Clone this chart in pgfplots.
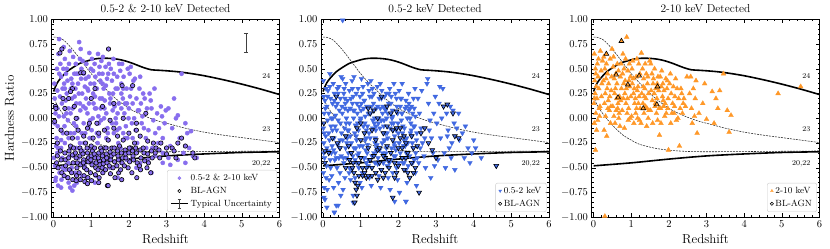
\documentclass[border=0pt]{standalone}
\usepackage{fix-cm}
\usepackage{pgfplots}
\usepackage{pgfplotstable}
\pgfplotsset{compat=1.18}
\definecolor{mpurple}{RGB}{136,110,238}
\definecolor{mblue}{RGB}{65,105,225}
\definecolor{morange}{RGB}{255,152,40}

\pgfplotstableread{
z h
0 0.27
0.05 0.32
0.1 0.36
0.2 0.41
0.35 0.47
0.5 0.51
0.7 0.555
0.9 0.58
1.1 0.60
1.3 0.607
1.5 0.605
1.7 0.597
1.9 0.58
2.1 0.555
2.3 0.525
2.45 0.505
2.6 0.49
2.8 0.485
3.0 0.48
3.3 0.47
3.6 0.455
4.0 0.43
4.5 0.39
5.0 0.345
5.5 0.295
6.0 0.24
}\trackA

\pgfplotstableread{
z h
0 0.82
0.1 0.818
0.2 0.805
0.3 0.78
0.45 0.72
0.6 0.65
0.8 0.55
1.0 0.45
1.2 0.365
1.4 0.29
1.6 0.215
1.8 0.155
2.0 0.1
2.2 0.06
2.5 0.01
2.8 -0.03
3.0 -0.05
3.5 -0.1
4.0 -0.14
4.5 -0.17
5.0 -0.195
5.5 -0.22
6.0 -0.245
}\trackB

\pgfplotstableread{
z h
0 0.22
0.05 0.17
0.1 0.13
0.2 0.07
0.34 0.0
0.5 -0.07
0.78 -0.17
1.0 -0.22
1.2 -0.26
1.6 -0.30
2.0 -0.322
2.5 -0.335
3.0 -0.338
4.0 -0.336
5.0 -0.333
6.0 -0.33
}\trackC

\pgfplotstableread{
z h
0 -0.48
1 -0.45
2 -0.412
3 -0.38
4 -0.36
5 -0.345
6 -0.338
}\trackD

\pgfplotsset{
  hrstyle/.style={
    scale only axis, width=228pt, height=198pt,
    xmin=-0.055, xmax=6, ymin=-1, ymax=1,
    xtick={0,1,2,3,4,5,6},
    ytick={-1,-0.75,-0.5,-0.25,0,0.25,0.5,0.75,1},
    yticklabel={\pgfmathprintnumber[fixed,fixed zerofill,precision=2]{\tick}},
    minor x tick num=4, minor y tick num=4,
    tick align=inside, major tick length=4pt, minor tick length=2pt,
    every tick/.style={black, line width=0.5pt},
    axis line style={line width=0.8pt},
    tick label style={font=\fontsize{10.5}{12}\selectfont},
    xlabel={Redshift},
    label style={font=\fontsize{13}{15}\selectfont},
    title style={font=\fontsize{11.5}{13}\selectfont, yshift=-3pt},
    legend style={at={(0.989,0.027)}, anchor=south east, draw=black!20, rounded corners=2pt,
      fill=white, fill opacity=0.8, text opacity=1, font=\fontsize{9}{10.5}\selectfont,
      cells={anchor=west}, row sep=1pt},
    legend image post style={mark size=1.6pt},
  },
  thickT/.style={black, line width=1.6pt, forget plot, smooth},
  dashT/.style={black!85, line width=0.55pt, dash pattern=on 2pt off 1pt, forget plot, smooth},
  ebar/.style={black!75, line width=0.9pt, forget plot},
}

\newcommand{\tracks}{%
  \addplot[thickT] table[x=z,y=h] {\trackA};
  \addplot[dashT] table[x=z,y=h] {\trackB};
  \addplot[dashT] table[x=z,y=h] {\trackC};
  \addplot[thickT] table[x=z,y=h] {\trackD};
  \node[font=\fontsize{7.5}{9}\selectfont, anchor=east] at (axis cs:5.85,0.43) {24};
  \node[font=\fontsize{7.5}{9}\selectfont, anchor=east] at (axis cs:5.85,-0.11) {23};
  \node[font=\fontsize{7.5}{9}\selectfont, anchor=east] at (axis cs:5.85,-0.455) {20,22};
}

\begin{document}
\begin{tikzpicture}
\path[use as bounding box] (0,0) rectangle (830pt,249pt);

% ---------------- Panel 1 ----------------
\begin{axis}[hrstyle, at={(51.5pt,31.7pt)}, anchor=south west,
  title={0.5-2 \& 2-10 keV Detected}, ylabel={Hardness Ratio}]
\addplot[only marks, mark=*, mark size=2.1pt, mpurple, mark options={fill=mpurple, draw=mpurple, line width=0.4pt}] coordinates {
(0.02,0.35)(0.05,0.12)(0.03,-0.05)(0.08,-0.2)(0.1,-0.35)(0.04,-0.48)(0.06,-0.6)(0.12,-0.68)(0.15,0.8)(0.18,0.55)(0.2,0.42)(0.1,0.28)(0.22,0.15)(0.14,0.02)(0.19,-0.12)(0.07,-0.28)(0.23,-0.4)(0.16,-0.55)(0.21,-0.62)(0.09,0.5)(0.13,0.65)(0.24,0.3)(0.01,-0.4)(0.11,-0.08)(0.17,0.22)(0.05,0.05)(0.2,-0.22)(0.03,0.2)(0.24,-0.5)(0.12,-0.3)
(0.27,0.72)(0.3,0.6)(0.33,0.45)(0.28,0.35)(0.35,0.25)(0.4,0.1)(0.38,-0.02)(0.45,-0.15)(0.3,-0.25)(0.42,-0.38)(0.48,-0.5)(0.36,-0.6)(0.44,-0.7)(0.5,-0.73)(0.26,0.5)(0.32,0.18)(0.47,0.4)(0.41,0.55)(0.29,-0.08)(0.46,0.3)(0.34,0.05)(0.39,-0.45)(0.43,0.68)(0.31,-0.52)(0.49,0.2)(0.37,0.38)(0.27,0.02)(0.45,-0.3)
(0.52,0.62)(0.55,0.45)(0.58,0.3)(0.6,0.15)(0.63,0.0)(0.66,-0.12)(0.7,-0.25)(0.53,-0.38)(0.57,-0.55)(0.62,-0.65)(0.68,0.77)(0.72,0.7)(0.74,0.5)(0.65,0.35)(0.56,0.22)(0.71,0.08)(0.54,-0.05)(0.61,-0.3)(0.69,-0.45)(0.73,0.4)(0.59,0.55)(0.67,0.25)(0.51,0.1)(0.64,-0.2)(0.75,-0.58)(0.55,-0.15)(0.7,0.6)(0.6,0.45)(0.66,-0.4)
(0.77,0.58)(0.8,0.45)(0.83,0.32)(0.86,0.2)(0.9,0.05)(0.93,-0.08)(0.96,-0.2)(0.78,-0.33)(0.82,-0.48)(0.88,-0.6)(0.95,0.66)(0.99,0.5)(0.85,0.4)(0.92,0.28)(0.79,0.12)(0.97,-0.02)(0.84,-0.15)(0.91,-0.4)(0.87,0.55)(0.94,0.15)(0.81,-0.25)(0.98,0.35)(0.76,0.25)(0.89,-0.52)(0.93,0.42)
(1.02,0.6)(1.05,0.48)(1.08,0.35)(1.1,0.22)(1.13,0.1)(1.16,-0.05)(1.2,-0.18)(1.03,-0.3)(1.07,-0.45)(1.12,-0.58)(1.18,0.65)(1.22,0.52)(1.24,0.38)(1.15,0.3)(1.06,0.15)(1.19,0.02)(1.01,-0.12)(1.14,-0.38)(1.21,0.45)(1.09,0.55)(1.23,0.2)(1.04,0.0)(1.17,-0.25)(1.11,0.42)
(1.27,0.58)(1.3,0.45)(1.33,0.3)(1.36,0.18)(1.4,0.05)(1.43,-0.1)(1.46,-0.22)(1.28,-0.35)(1.32,-0.5)(1.38,0.52)(1.42,0.4)(1.48,0.25)(1.35,0.1)(1.26,-0.02)(1.44,-0.15)(1.49,-0.4)(1.31,0.62)(1.39,0.33)(1.47,0.55)(1.29,0.2)(1.41,-0.3)(1.34,0.0)
(1.52,0.5)(1.55,0.38)(1.58,0.25)(1.62,0.12)(1.65,0.0)(1.68,-0.12)(1.72,-0.25)(1.54,-0.38)(1.6,0.45)(1.7,0.3)(1.74,0.55)(1.57,0.08)(1.66,-0.05)(1.51,0.2)(1.63,-0.3)(1.69,0.42)(1.73,0.15)(1.59,0.6)
(1.77,0.48)(1.8,0.35)(1.84,0.2)(1.88,0.05)(1.92,-0.08)(1.96,-0.2)(1.78,-0.3)(1.86,0.42)(1.94,0.3)(1.82,0.55)(1.9,0.15)(1.99,0.0)(1.85,-0.15)(1.97,0.5)(1.8,0.1)
(2.02,0.45)(2.06,0.3)(2.1,0.15)(2.14,0.0)(2.18,-0.12)(2.22,-0.25)(2.05,0.52)(2.12,0.38)(2.2,0.2)(2.08,-0.05)(2.16,0.4)(2.24,0.08)(2.03,0.22)
(2.28,0.3)(2.32,0.15)(2.36,0.02)(2.4,-0.1)(2.45,-0.2)(2.3,0.42)(2.38,0.25)(2.48,0.1)(2.34,-0.05)(2.42,0.2)(2.46,-0.3)(2.27,0.08)
(2.55,0.25)(2.6,0.1)(2.65,-0.02)(2.7,-0.15)(2.75,0.05)(2.8,-0.1)(2.85,0.12)(2.9,-0.2)(2.95,-0.05)(2.58,0.18)(2.68,0.3)(2.78,-0.25)(2.88,0.02)(2.52,-0.12)(2.98,0.08)(2.62,-0.3)
(3.05,0.1)(3.15,-0.1)(3.25,0.0)(3.35,-0.2)(3.4,0.45)(3.5,-0.05)(3.6,-0.3)(3.55,-0.15)(3.2,0.2)(3.1,-0.28)(3.45,-0.35)(3.7,-0.38)(3.3,0.03)(3.05,-0.4)(3.65,-0.13)
(1.3,-0.55)(1.5,-0.5)(1.8,-0.45)(2.1,-0.4)(2.3,-0.45)(2.5,-0.42)(2.7,-0.38)(2.9,-0.35)(3.1,-0.47)(2.6,-0.55)(1.7,-0.6)(1.1,-0.65)(0.9,-0.66)(0.4,-0.65)(2.2,-0.5)(1.95,-0.42)(0.2,-0.7)(0.55,-0.68)(0.05,-0.63)(2.9,-0.45)(3.3,-0.42)(3.5,-0.45)(3.8,-0.4)
(0.1,0.1)(0.2,-0.3)(0.3,0.3)(0.4,-0.2)(0.5,0.35)(0.6,-0.08)(0.7,0.15)(0.8,-0.05)(0.9,0.3)(1.0,-0.2)
(1.1,0.1)(1.2,-0.05)(1.3,0.35)(1.4,-0.2)(1.5,0.15)(1.6,-0.15)(1.7,0.05)(1.8,0.25)(1.9,-0.2)(2.0,0.1)
(0.15,0.45)(0.25,-0.15)(0.35,0.5)(0.45,0.05)(0.55,-0.3)(0.65,0.45)(0.75,-0.15)(0.85,0.1)(0.95,-0.3)(1.05,0.25)
(1.15,-0.15)(1.25,0.1)(1.35,-0.3)(1.45,0.45)(1.55,-0.05)(1.65,0.3)(1.75,-0.1)(1.85,0.3)(1.95,0.15)(2.1,-0.2)
};
\addlegendentry{0.5-2 \& 2-10 keV}
\addplot[only marks, mark=*, mark size=2.2pt, mark options={fill=mpurple, draw=black, line width=0.6pt}, forget plot] coordinates {
(0.17,0.66)(0.22,0.7)(1.46,0.7)(0.72,0.46)(0.8,0.46)(1.82,0.33)(2.1,0.33)(0.5,0.3)(0.45,0.27)(1.0,0.2)(0.4,0.2)(0.25,0.2)(0.05,0.12)(0.06,0.1)(0.03,-0.03)(0.3,0.1)(0.55,0.12)(1.1,0.3)(1.6,0.15)(1.3,0.12)(0.6,0.0)(0.95,-0.05)(1.5,-0.02)(2.45,0.05)(2.2,-0.05)(1.85,0.0)
(0.2,-0.12)(0.35,-0.15)(0.5,-0.2)(0.65,-0.12)(0.8,-0.18)(0.9,-0.1)(1.05,-0.2)(1.2,-0.15)(1.35,-0.12)(1.45,-0.22)(1.6,-0.1)(1.7,-0.18)(1.85,-0.22)(2.0,-0.15)(2.15,-0.25)(2.3,-0.18)(2.5,-0.23)(2.65,-0.25)(2.85,-0.25)(3.0,-0.3)(3.4,-0.2)(3.5,-0.28)(3.3,-0.25)(3.15,-0.3)(0.1,-0.25)(0.45,-0.28)(0.7,-0.3)(1.0,-0.28)(1.25,-0.3)(1.55,-0.3)(1.75,-0.28)(2.05,-0.3)(2.2,-0.12)(1.15,-0.05)(0.85,-0.25)
(0.1,-0.38)(0.12,-0.5)(0.08,-0.45)(0.2,-0.42)(0.22,-0.55)(0.18,-0.33)(0.3,-0.35)(0.32,-0.48)(0.28,-0.58)(0.31,-0.42)
(0.4,-0.4)(0.42,-0.52)(0.38,-0.6)(0.41,-0.33)(0.5,-0.37)(0.52,-0.45)(0.48,-0.55)(0.51,-0.62)(0.53,-0.3)
(0.6,-0.4)(0.62,-0.5)(0.58,-0.35)(0.61,-0.58)(0.63,-0.45)(0.7,-0.38)(0.72,-0.47)(0.68,-0.55)(0.71,-0.62)(0.73,-0.33)
(0.8,-0.42)(0.82,-0.5)(0.78,-0.36)(0.81,-0.58)(0.83,-0.64)(0.79,-0.45)(0.9,-0.35)(0.92,-0.44)(0.88,-0.52)(0.91,-0.6)(0.93,-0.4)(0.89,-0.3)
(1.0,-0.38)(1.02,-0.47)(0.98,-0.55)(1.01,-0.63)(1.03,-0.33)(0.99,-0.42)(1.1,-0.4)(1.12,-0.5)(1.08,-0.36)(1.11,-0.57)(1.13,-0.45)(1.09,-0.3)
(1.2,-0.35)(1.22,-0.43)(1.18,-0.52)(1.21,-0.6)(1.23,-0.47)(1.19,-0.4)(1.3,-0.38)(1.32,-0.46)(1.28,-0.33)(1.31,-0.55)(1.33,-0.42)(1.29,-0.5)
(1.4,-0.36)(1.42,-0.45)(1.38,-0.52)(1.41,-0.4)(1.43,-0.68)(1.39,-0.3)(1.5,-0.34)(1.52,-0.42)(1.48,-0.48)(1.51,-0.56)(1.53,-0.38)
(1.6,-0.36)(1.62,-0.44)(1.58,-0.5)(1.61,-0.3)(1.63,-0.6)(1.7,-0.33)(1.72,-0.42)(1.68,-0.48)(1.71,-0.38)(1.73,-0.55)
(1.8,-0.35)(1.82,-0.45)(1.78,-0.52)(1.81,-0.62)(1.83,-0.4)(1.9,-0.32)(1.92,-0.4)(1.88,-0.48)(1.91,-0.36)
(2.0,-0.35)(2.02,-0.44)(1.98,-0.5)(2.01,-0.3)(2.1,-0.33)(2.12,-0.42)(2.08,-0.55)(2.11,-0.38)
(2.2,-0.35)(2.22,-0.45)(2.18,-0.3)(2.21,-0.6)(2.3,-0.32)(2.32,-0.4)(2.28,-0.48)(2.31,-0.52)
(2.4,-0.35)(2.42,-0.43)(2.38,-0.3)(2.5,-0.36)(2.52,-0.45)(2.48,-0.5)(2.6,-0.33)(2.62,-0.4)(2.58,-0.55)
(2.7,-0.35)(2.72,-0.3)(2.8,-0.32)(2.82,-0.4)(3.0,-0.36)(3.2,-0.33)(3.25,-0.4)(3.75,-0.4)(3.7,-0.35)
(1.45,-0.68)(0.6,-0.63)(0.9,-0.66)(1.2,-0.65)
};
% typical uncertainty: bar and caps
\addplot[ebar] coordinates {(5.11,0.667) (5.11,0.859)};
\addplot[ebar] coordinates {(5.056,0.859) (5.164,0.859)};
\addplot[ebar] coordinates {(5.056,0.667) (5.164,0.667)};
\tracks
\addlegendimage{only marks, mark=o, black, mark options={line width=0.6pt}}
\addlegendentry{BL-AGN}
\addlegendimage{legend image code/.code={
  \draw[black, line width=1.2pt] (0cm,0cm) -- (0.6cm,0cm);
  \draw[black!75, line width=0.8pt] (0.3cm,-0.16cm) -- (0.3cm,0.16cm);
  \draw[black!75, line width=0.8pt] (0.24cm,-0.16cm) -- (0.36cm,-0.16cm);
  \draw[black!75, line width=0.8pt] (0.24cm,0.16cm) -- (0.36cm,0.16cm);}}
\addlegendentry{Typical Uncertainty}
\end{axis}

% ---------------- Panel 2 ----------------
\begin{axis}[hrstyle, at={(321pt,31.7pt)}, anchor=south west,
  title={0.5-2 keV Detected}]
\addplot[only marks, mark=triangle*, mark size=2.8pt, mblue, mark options={fill=mblue, draw=mblue, line width=0.3pt, rotate=180}] coordinates {
(0.52,0.99)
(0.01,0.38)(0.02,0.22)(0.03,0.05)(0.01,-0.1)(0.02,-0.25)(0.04,-0.4)(0.01,-0.55)(0.03,-0.7)(0.05,-0.82)(0.08,0.3)(0.1,0.12)(0.12,-0.02)(0.07,-0.18)(0.14,-0.33)(0.09,-0.48)(0.16,-0.62)(0.18,0.45)(0.2,0.2)(0.22,0.0)(0.15,-0.15)(0.24,-0.28)(0.19,-0.42)(0.11,-0.72)(0.23,-0.58)(0.06,0.1)(0.13,0.28)(0.21,-0.08)(0.17,-0.22)(0.02,-0.35)(0.25,0.15)
(0.27,0.35)(0.3,0.18)(0.33,0.03)(0.36,-0.12)(0.39,-0.27)(0.42,-0.4)(0.45,-0.55)(0.3,-0.95)(0.35,-0.88)(0.28,-0.7)(0.48,0.42)(0.4,0.25)(0.43,0.08)(0.46,-0.05)(0.29,-0.2)(0.32,-0.35)(0.37,-0.5)(0.41,-0.65)(0.47,-0.78)(0.26,0.0)(0.34,0.12)(0.44,-0.3)(0.38,0.3)(0.49,-0.15)(0.31,-0.42)(0.46,0.2)
(0.52,0.4)(0.55,0.25)(0.58,0.1)(0.61,-0.05)(0.64,-0.2)(0.67,-0.35)(0.7,-0.5)(0.73,-0.62)(0.53,-0.72)(0.56,0.3)(0.59,0.15)(0.62,0.0)(0.65,-0.12)(0.68,-0.28)(0.71,-0.42)(0.74,0.2)(0.51,0.05)(0.57,-0.1)(0.63,-0.25)(0.69,-0.55)(0.6,0.35)(0.66,0.08)(0.72,-0.18)(0.54,-0.4)(0.7,0.28)(0.58,-0.6)
(0.77,0.38)(0.8,0.22)(0.83,0.08)(0.86,-0.07)(0.89,-0.22)(0.92,-0.37)(0.95,-0.5)(0.98,-0.65)(0.8,-0.78)(0.78,0.15)(0.81,0.0)(0.84,-0.15)(0.87,-0.3)(0.9,-0.45)(0.93,0.3)(0.96,0.12)(0.99,-0.02)(0.76,-0.52)(0.82,0.42)(0.88,0.25)(0.94,-0.12)(0.97,-0.28)(0.85,-0.6)(0.91,0.05)(0.79,-0.38)
(1.02,0.4)(1.05,0.25)(1.08,0.1)(1.11,-0.05)(1.14,-0.2)(1.17,-0.35)(1.2,-0.48)(1.23,-0.6)(1.03,-0.7)(1.06,0.32)(1.09,0.18)(1.12,0.02)(1.15,-0.12)(1.18,-0.27)(1.21,-0.42)(1.24,0.22)(1.01,0.08)(1.07,-0.08)(1.13,-0.32)(1.19,0.35)(1.22,-0.15)(1.04,-0.55)(1.16,0.12)(1.1,-0.4)
(1.27,0.38)(1.3,0.22)(1.33,0.08)(1.36,-0.05)(1.39,-0.2)(1.42,-0.33)(1.45,-0.46)(1.48,-0.58)(1.28,-0.68)(1.31,0.3)(1.34,0.15)(1.37,0.0)(1.4,-0.12)(1.43,-0.27)(1.46,-0.4)(1.49,0.2)(1.26,0.05)(1.32,-0.1)(1.38,-0.25)(1.44,0.32)(1.47,-0.05)(1.29,-0.5)(1.41,0.1)(1.35,-0.35)
(1.52,0.35)(1.55,0.2)(1.58,0.05)(1.61,-0.08)(1.64,-0.22)(1.67,-0.35)(1.7,-0.48)(1.73,-0.6)(1.53,-0.7)(1.56,0.28)(1.59,0.12)(1.62,-0.02)(1.65,-0.15)(1.68,-0.3)(1.71,-0.42)(1.74,0.15)(1.51,-0.1)(1.57,-0.25)(1.63,0.22)(1.69,0.0)(1.72,-0.2)(1.54,-0.52)(1.66,0.08)
(1.77,0.3)(1.8,0.15)(1.83,0.0)(1.86,-0.12)(1.89,-0.25)(1.92,-0.38)(1.95,-0.5)(1.98,-0.62)(1.78,-0.72)(1.81,0.22)(1.84,0.08)(1.87,-0.05)(1.9,-0.18)(1.93,-0.32)(1.96,0.12)(1.99,-0.05)(1.76,-0.45)(1.82,-0.3)(1.88,0.35)(1.94,-0.12)(1.85,-0.55)
(2.02,0.28)(2.05,0.12)(2.08,-0.02)(2.11,-0.15)(2.14,-0.28)(2.17,-0.4)(2.2,-0.52)(2.23,-0.65)(2.03,-0.75)(2.06,0.2)(2.09,0.05)(2.12,-0.08)(2.15,-0.22)(2.18,0.1)(2.21,-0.35)(2.24,0.0)(2.01,-0.45)(2.1,0.35)(2.16,-0.1)(2.22,-0.2)(2.2,-0.84)
(2.27,0.25)(2.3,0.1)(2.33,-0.05)(2.36,-0.18)(2.39,-0.3)(2.42,-0.42)(2.45,-0.55)(2.48,-0.68)(2.28,0.15)(2.31,0.0)(2.34,-0.12)(2.37,-0.25)(2.4,0.2)(2.43,-0.08)(2.46,-0.35)(2.26,-0.48)(2.38,0.05)(2.44,0.3)(2.49,-0.15)
(2.52,0.2)(2.56,0.05)(2.6,-0.1)(2.64,-0.25)(2.68,-0.38)(2.72,-0.5)(2.76,0.35)(2.8,0.15)(2.84,-0.02)(2.88,-0.2)(2.92,-0.35)(2.96,-0.48)(2.54,-0.45)(2.62,0.28)(2.7,-0.2)(2.78,0.4)(2.86,-0.6)(2.94,0.05)(2.58,-0.3)(2.82,-0.12)(2.98,0.22)
(3.02,-0.05)(3.08,0.15)(3.12,-0.2)(3.18,0.3)(3.22,-0.35)(3.28,0.05)(3.32,-0.12)(3.38,0.12)(3.42,-0.25)(3.48,-0.05)(3.05,-0.42)(3.15,0.0)(3.25,-0.5)(3.35,-0.3)(3.45,0.08)(3.1,0.32)(3.3,-0.18)(3.4,-0.4)
(3.55,-0.1)(3.62,-0.22)(3.7,-0.15)(3.78,-0.08)(3.85,-0.3)(3.95,-0.35)(4.05,-0.3)(4.2,-0.4)(3.6,0.05)(3.75,-0.4)(4.0,-0.22)(4.6,-0.48)(3.5,-0.52)(3.9,-0.45)
(0.3,-0.95)(0.8,-0.85)(0.4,-0.88)(1.9,-0.84)(2.2,-0.84)(0.02,-0.8)(0.1,-0.9)
(0.05,0.18)(0.1,-0.3)(0.15,0.05)(0.2,-0.5)(0.25,-0.12)(0.3,0.25)(0.35,-0.4)(0.4,-0.02)(0.45,-0.22)(0.5,0.12)
(0.55,-0.45)(0.6,-0.3)(0.65,0.18)(0.7,-0.05)(0.75,-0.25)(0.8,0.08)(0.85,-0.42)(0.9,0.15)(0.95,-0.35)(1.0,0.0)
(1.05,-0.28)(1.1,0.18)(1.15,-0.45)(1.2,0.05)(1.25,-0.2)(1.3,-0.38)(1.35,0.25)(1.4,-0.08)(1.45,0.12)(1.5,-0.32)
(1.55,-0.02)(1.6,-0.45)(1.65,0.1)(1.7,-0.15)(1.75,0.25)(1.8,-0.42)(1.85,0.02)(1.9,-0.28)(1.95,0.2)(2.0,-0.15)
(2.05,-0.35)(2.1,0.05)(2.15,-0.45)(2.2,0.18)(2.25,-0.25)(2.3,-0.38)(2.35,0.12)(2.4,-0.08)(2.45,0.02)(2.5,-0.4)
(0.08,-0.6)(0.18,0.32)(0.28,-0.32)(0.38,0.15)(0.48,-0.38)(0.58,0.2)(0.68,-0.12)(0.78,0.3)(0.88,-0.18)(0.98,0.22)
(1.08,-0.4)(1.18,-0.08)(1.28,0.12)(1.38,-0.45)(1.48,0.0)(1.58,-0.35)(1.68,0.25)(1.78,-0.1)(1.88,-0.38)(1.98,0.05)
(2.08,0.2)(2.18,-0.28)(2.28,0.08)(2.38,-0.45)(2.48,-0.22)(0.12,0.22)(0.22,-0.35)(0.32,-0.08)(0.42,0.32)(0.52,-0.22)
(0.62,-0.4)(0.72,0.1)(0.82,-0.3)(0.92,-0.05)(1.02,0.15)(1.12,-0.22)(1.22,0.28)(1.32,-0.02)(1.42,-0.3)(1.52,0.1)
(1.62,-0.22)(1.72,0.05)(1.82,-0.05)(1.92,0.25)(2.02,-0.25)(2.12,-0.45)(2.22,0.12)(2.32,-0.15)(2.42,0.1)(0.03,-0.15)
};
\addlegendentry{0.5-2 keV}
\addplot[only marks, mark=triangle*, mark size=2.8pt, mark options={fill=mblue, draw=black, line width=0.6pt, rotate=180}, forget plot] coordinates {
(0.05,-0.33)(0.05,-0.45)(0.02,-0.05)(0.35,0.22)(0.38,-0.25)(0.6,-0.18)(0.68,-0.28)(0.75,-0.35)(0.8,-0.45)(0.82,-0.55)(0.85,-0.65)(0.88,-0.72)(0.9,-0.78)(0.92,-0.68)(0.84,-0.85)(0.78,-0.5)(0.95,-0.58)(1.0,-0.4)(1.05,-0.5)(1.1,-0.55)(1.15,-0.6)(1.2,-0.3)(1.25,-0.42)(1.3,-0.5)(1.35,-0.38)(1.4,-0.22)(1.45,-0.32)(1.5,-0.45)(1.55,-0.52)(1.6,-0.6)(1.65,-0.4)(1.7,-0.28)(1.75,-0.5)(1.8,-0.35)(1.85,-0.22)(1.9,-0.45)(1.95,-0.55)(2.0,-0.3)(2.05,-0.2)(2.1,-0.4)(2.15,-0.52)(2.2,-0.25)(2.25,-0.35)(2.3,-0.6)(2.35,-0.45)(2.4,-0.3)(2.45,-0.5)(2.5,-0.28)(2.55,-0.75)(1.2,0.1)(1.35,0.08)(1.55,0.22)(1.45,0.0)(1.7,-0.08)(1.95,0.07)(2.05,-0.1)(2.15,-0.18)(1.3,-0.12)(1.0,-0.05)(1.1,-0.15)(0.9,-0.1)(1.25,0.05)(1.6,-0.15)(1.8,0.05)(2.6,-0.15)(2.8,-0.25)(3.2,0.12)(3.3,0.14)(3.45,0.05)(3.5,-0.18)(3.0,-0.4)(2.9,-0.32)(3.6,-0.2)(4.6,-0.48)(1.85,-0.8)(1.45,-0.62)(1.15,-0.5)(1.05,-0.58)(1.9,-0.6)(2.0,-0.48)(2.25,-0.55)(1.75,-0.42)(1.5,-0.3)(1.6,-0.38)(1.4,-0.55)(1.3,-0.58)(0.95,-0.45)(1.2,-0.58)(1.65,-0.55)(2.1,-0.3)(2.35,-0.18)(2.4,-0.55)(2.7,-0.1)(2.2,-0.4)(0.7,-0.42)(0.6,-0.5)(0.45,-0.3)(0.25,-0.2)(0.15,-0.35)(1.0,-0.22)(1.7,0.12)(1.95,-0.1)(1.85,-0.12)
};
\tracks
\addlegendimage{only marks, mark=o, black, mark options={line width=0.6pt}}
\addlegendentry{BL-AGN}
\end{axis}

% ---------------- Panel 3 ----------------
\begin{axis}[hrstyle, at={(591.5pt,31.7pt)}, anchor=south west,
  title={2-10 keV Detected}]
\addplot[only marks, mark=triangle*, mark size=2.8pt, morange, mark options={fill=morange, draw=morange, line width=0.3pt}] coordinates {
(0.02,0.65)(0.05,0.5)(0.03,0.38)(0.04,0.25)(0.01,0.15)(0.06,0.05)(0.02,-0.05)(0.08,-0.12)(0.05,-0.32)(0.1,0.55)(0.12,0.42)(0.14,0.3)(0.09,0.2)(0.15,0.1)(0.18,0.68)(0.2,0.48)(0.22,0.35)(0.17,0.12)(0.24,0.58)(0.11,-0.02)(0.03,0.2)(0.07,0.32)(0.13,0.6)(0.21,0.22)(0.06,0.45)(0.16,0.02)
(0.27,0.62)(0.3,0.5)(0.33,0.4)(0.36,0.3)(0.39,0.18)(0.42,0.08)(0.45,-0.05)(0.28,-0.12)(0.31,0.25)(0.34,0.55)(0.37,0.45)(0.4,0.35)(0.43,0.22)(0.46,0.12)(0.49,0.7)(0.26,0.38)(0.29,0.15)(0.32,0.02)(0.35,-0.18)(0.48,0.42)(0.44,0.6)(0.38,0.1)(0.47,0.28)
(0.52,0.52)(0.55,0.4)(0.58,0.3)(0.61,0.2)(0.64,0.1)(0.67,0.0)(0.7,-0.08)(0.53,0.62)(0.56,0.25)(0.59,0.45)(0.62,0.35)(0.65,0.15)(0.68,0.05)(0.71,0.42)(0.74,0.3)(0.51,0.12)(0.57,-0.05)(0.63,0.55)(0.69,0.22)(0.72,0.18)(0.66,0.48)(0.6,0.08)(0.73,0.55)(0.54,0.02)
(0.77,0.45)(0.8,0.35)(0.83,0.25)(0.86,0.15)(0.89,0.05)(0.92,-0.02)(0.95,0.55)(0.98,0.42)(0.78,0.65)(0.88,0.82)(0.81,0.5)(0.84,0.38)(0.87,0.3)(0.9,0.2)(0.93,0.1)(0.96,0.32)(0.99,0.22)(0.76,0.08)(0.82,-0.1)(0.85,0.6)(0.91,0.48)(0.97,0.0)(0.79,0.2)(0.94,0.38)
(1.02,0.5)(1.05,0.4)(1.08,0.3)(1.11,0.2)(1.14,0.1)(1.17,0.0)(1.2,0.55)(1.23,0.45)(1.03,0.35)(1.06,0.25)(1.09,0.15)(1.12,0.05)(1.15,0.6)(1.18,0.32)(1.21,0.22)(1.24,0.1)(1.01,0.02)(1.07,-0.05)(1.13,0.42)(1.19,0.15)(1.22,-0.02)(1.04,0.58)(1.16,0.28)
(1.27,0.66)(1.3,0.5)(1.33,0.4)(1.36,0.3)(1.39,0.2)(1.42,0.1)(1.45,0.0)(1.28,0.25)(1.31,0.15)(1.34,0.05)(1.37,0.55)(1.4,0.45)(1.43,0.35)(1.46,0.25)(1.49,0.58)(1.26,-0.05)(1.32,0.32)(1.38,0.12)(1.44,0.42)(1.47,0.08)(1.35,0.22)(1.41,-0.08)
(1.52,0.55)(1.55,0.45)(1.58,0.35)(1.61,0.25)(1.64,0.15)(1.67,0.05)(1.7,-0.02)(1.53,0.28)(1.56,0.18)(1.59,0.4)(1.62,0.5)(1.65,0.3)(1.68,0.2)(1.71,0.42)(1.74,0.1)(1.51,0.08)(1.57,-0.05)(1.63,0.12)(1.69,0.35)(1.73,0.28)(1.75,-0.17)
(1.77,0.42)(1.8,0.32)(1.83,0.22)(1.86,0.12)(1.89,0.02)(1.92,0.4)(1.95,0.3)(1.98,0.2)(1.78,0.1)(1.81,0.48)(1.84,0.35)(1.87,0.28)(1.9,0.15)(1.93,0.05)(1.96,0.38)(1.99,-0.32)(1.79,-0.05)(1.85,0.18)(1.97,0.1)
(2.02,0.35)(2.06,0.25)(2.1,0.15)(2.14,0.05)(2.18,0.4)(2.22,0.3)(2.26,0.2)(2.3,0.1)(2.34,0.25)(2.38,0.15)(2.04,0.45)(2.08,0.05)(2.12,0.32)(2.16,0.22)(2.2,-0.02)(2.24,0.0)(2.28,-0.28)(2.32,0.3)(2.36,0.05)(2.4,0.2)(2.44,0.12)(2.48,0.42)(2.05,-0.05)(2.15,0.12)
(2.55,0.25)(2.6,0.1)(2.65,0.3)(2.7,0.2)(2.75,-0.15)(2.8,0.05)(2.58,0.42)(2.68,0.02)(2.95,0.35)(3.0,-0.01)(3.15,0.27)(3.25,0.2)(3.3,0.1)(3.35,0.28)(3.45,0.45)(3.55,0.08)(3.65,0.03)(3.6,-0.14)(2.9,0.15)(3.2,-0.05)(2.62,-0.05)(2.72,0.38)
(4.9,0.25)(5.5,0.32)(0.3,-0.99)
};
\addlegendentry{2-10 keV}
\addplot[only marks, mark=triangle*, mark size=2.8pt, mark options={fill=morange, draw=black, line width=0.6pt}, forget plot] coordinates {
(0.34,0.65)(0.74,0.78)(0.6,0.44)(0.91,0.34)(0.65,0.21)(1.21,0.43)(1.32,0.10)(1.7,0.32)(1.68,0.14)
};
\tracks
\addlegendimage{only marks, mark=o, black, mark options={line width=0.6pt}}
\addlegendentry{BL-AGN}
\end{axis}
\end{tikzpicture}
\end{document}
